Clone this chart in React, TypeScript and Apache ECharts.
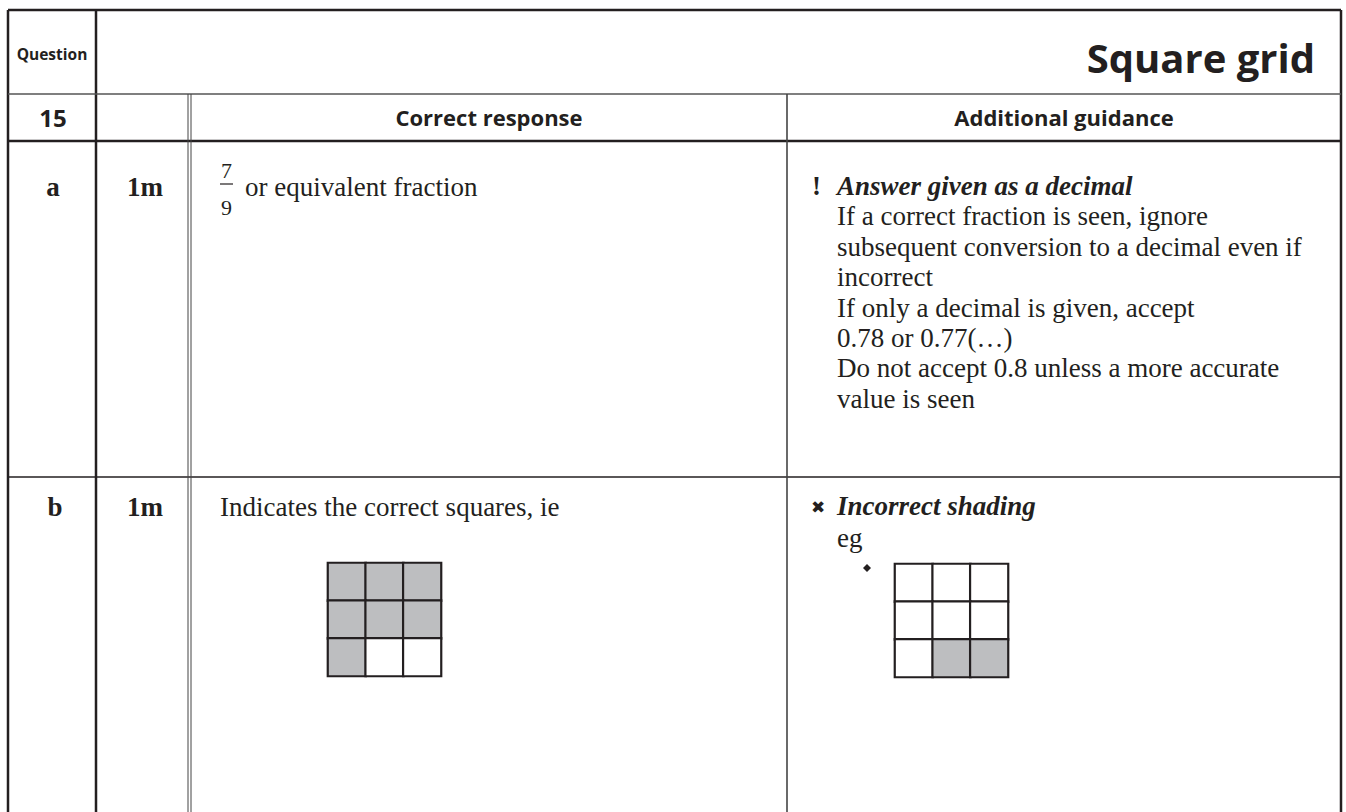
import React, { useEffect, useRef } from "react";
import * as echarts from "echarts";

// ---- content ----
const titleText = "Square grid";
const questionLabel = "Question";
const questionNumber = "15";
const columnHeaders = ["Correct response", "Additional guidance"];
const partLabels = ["a", "b"];
const partMarks = ["1m", "1m"];
const fractionNum = "7";
const fractionDen = "9";
const responseA = "or equivalent fraction";
const responseB = "Indicates the correct squares, ie";
const guidanceAHead = "Answer given as a decimal";
const guidanceALines = [
  "If a correct fraction is seen, ignore",
  "subsequent conversion to a decimal even if",
  "incorrect",
  "If only a decimal is given, accept",
  "0.78 or 0.77(\u2026)",
  "Do not accept 0.8 unless a more accurate",
  "value is seen",
];
const guidanceBHead = "Incorrect shading";
const guidanceBEg = "eg";

// grid cells: rows top->bottom, cols left->right; 1 = shaded
const gridCols = ["c1", "c2", "c3"];
const gridRows = ["r1", "r2", "r3"];
const correctShading = [
  [1, 1, 1],
  [1, 1, 1],
  [1, 0, 0],
];
const exampleShading = [
  [0, 0, 0],
  [0, 0, 0],
  [0, 1, 1],
];

const INK = "#231f20";
const SERIF = '"Liberation Serif", "Times New Roman", serif';
const SANS = '"Open Sans", "Noto Sans", sans-serif';

function toCells(m: number[][]) {
  const out: number[][] = [];
  m.forEach((row, r) => row.forEach((v, c) => out.push([c, r, v])));
  return out;
}

function line(x1: number, y1: number, x2: number, y2: number, w: number, color = INK) {
  return { type: "line", shape: { x1, y1, x2, y2 }, style: { stroke: color, lineWidth: w }, silent: true };
}

function txt(
  text: string,
  x: number,
  y: number,
  opts: { size: number; family?: string; weight?: string; italic?: boolean; align?: string }
) {
  return {
    type: "text",
    x,
    y,
    silent: true,
    style: {
      text,
      fill: INK,
      fontSize: opts.size,
      fontFamily: opts.family || SERIF,
      fontWeight: opts.weight || "normal",
      fontStyle: opts.italic ? "italic" : "normal",
      align: opts.align || "left",
      verticalAlign: "middle",
    },
  };
}

export default function App() {
  const ref = useRef<HTMLDivElement>(null);

  useEffect(() => {
    document.body.style.margin = "0";
    const chart = echarts.init(ref.current!, null, { renderer: "svg" });

    const L = 8, R = 1341, T = 10, B = 812;
    const C1 = 96, D1 = 188, D2 = 191, C4 = 787;
    const Y1 = 94, Y2 = 141, Y3 = 477;
    const serifMid = (baseline: number, size: number) => baseline - 0.34 * size;

    const graphics: any[] = [
      line(L, T, R, T, 2.5),
      line(L, T, L, B, 2.5),
      line(R, T, R, B, 2.5),
      line(C1, T, C1, B, 2.5),
      line(L, Y1, R, Y1, 1.6, "#555"),
      line(L, Y2, R, Y2, 2.5),
      line(L, Y3, R, Y3, 1.6),
      line(D1, Y1, D1, B, 1, "#444"),
      line(D2, Y1, D2, B, 1, "#444"),
      line(C4, Y1, C4, B, 1.6, "#444"),
      // header row
      txt(questionLabel, 52, 54, { size: 15.5, family: SANS, weight: "bold", align: "center" }),
      txt(titleText, 1315, 57, { size: 40, family: SANS, weight: "bold", align: "right" }),
      txt(questionNumber, 53, 117, { size: 24, family: SANS, weight: "bold", align: "center" }),
      txt(columnHeaders[0], (D2 + C4) / 2, 117, { size: 22, family: SANS, weight: "bold", align: "center" }),
      txt(columnHeaders[1], (C4 + R) / 2, 117, { size: 22, family: SANS, weight: "bold", align: "center" }),
      // row a
      txt(partLabels[0], 53, serifMid(196, 27), { size: 27, weight: "bold", align: "center" }),
      txt(partMarks[0], 145, serifMid(196, 27), { size: 27, weight: "bold", align: "center" }),
      txt(fractionNum, 226.5, serifMid(178, 22), { size: 22, align: "center" }),
      line(220, 184, 233, 184, 1.2),
      txt(fractionDen, 226.5, serifMid(215, 22), { size: 22, align: "center" }),
      txt(responseA, 245, serifMid(196, 27), { size: 27 }),
      txt("!", 812, serifMid(195, 27), { size: 27, weight: "bold" }),
      txt(guidanceAHead, 837, serifMid(195, 27), { size: 27, weight: "bold", italic: true }),
      ...guidanceALines.map((s, i) => txt(s, 837, serifMid(225.5 + i * 30.4, 27), { size: 27 })),
      // row b
      txt(partLabels[1], 55, serifMid(516, 27), { size: 27, weight: "bold", align: "center" }),
      txt(partMarks[1], 145, serifMid(516, 27), { size: 27, weight: "bold", align: "center" }),
      txt(responseB, 220, serifMid(516, 27), { size: 27 }),
      txt("\u2716", 818, 507, { size: 17, family: '"DejaVu Sans", sans-serif', align: "center" }),
      txt(guidanceBHead, 837, serifMid(515, 27), { size: 27, weight: "bold", italic: true }),
      txt(guidanceBEg, 837, serifMid(547, 27), { size: 27 }),
      {
        type: "polygon",
        silent: true,
        shape: { points: [[867, 564], [871, 568], [867, 572], [863, 568]] },
        style: { fill: INK },
      },
    ];

    const axisCommon = {
      type: "category",
      axisLine: { show: false },
      axisTick: { show: false },
      axisLabel: { show: false },
      splitLine: { show: false },
    };

    chart.setOption({
      animation: false,
      backgroundColor: "#ffffff",
      grid: [
        { left: 328, top: 563, width: 113, height: 113 },
        { left: 895, top: 564, width: 113, height: 113 },
      ],
      xAxis: [
        { ...axisCommon, gridIndex: 0, data: gridCols },
        { ...axisCommon, gridIndex: 1, data: gridCols },
      ],
      yAxis: [
        { ...axisCommon, gridIndex: 0, data: gridRows, inverse: true },
        { ...axisCommon, gridIndex: 1, data: gridRows, inverse: true },
      ],
      visualMap: {
        type: "piecewise",
        show: false,
        dimension: 2,
        seriesIndex: [0, 1],
        pieces: [
          { value: 0, color: "#ffffff" },
          { value: 1, color: "#bdbec0" },
        ],
      },
      series: [
        {
          type: "heatmap",
          xAxisIndex: 0,
          yAxisIndex: 0,
          data: toCells(correctShading),
          itemStyle: { borderColor: INK, borderWidth: 2.2 },
          emphasis: { disabled: true },
          silent: true,
        },
        {
          type: "heatmap",
          xAxisIndex: 1,
          yAxisIndex: 1,
          data: toCells(exampleShading),
          itemStyle: { borderColor: INK, borderWidth: 2.2 },
          emphasis: { disabled: true },
          silent: true,
        },
      ],
      graphic: graphics,
    });

    return () => chart.dispose();
  }, []);

  return (
    <div
      ref={ref}
      style={{ position: "fixed", left: 0, top: 0, width: 1346, height: 812, background: "#fff" }}
    />
  );
}
